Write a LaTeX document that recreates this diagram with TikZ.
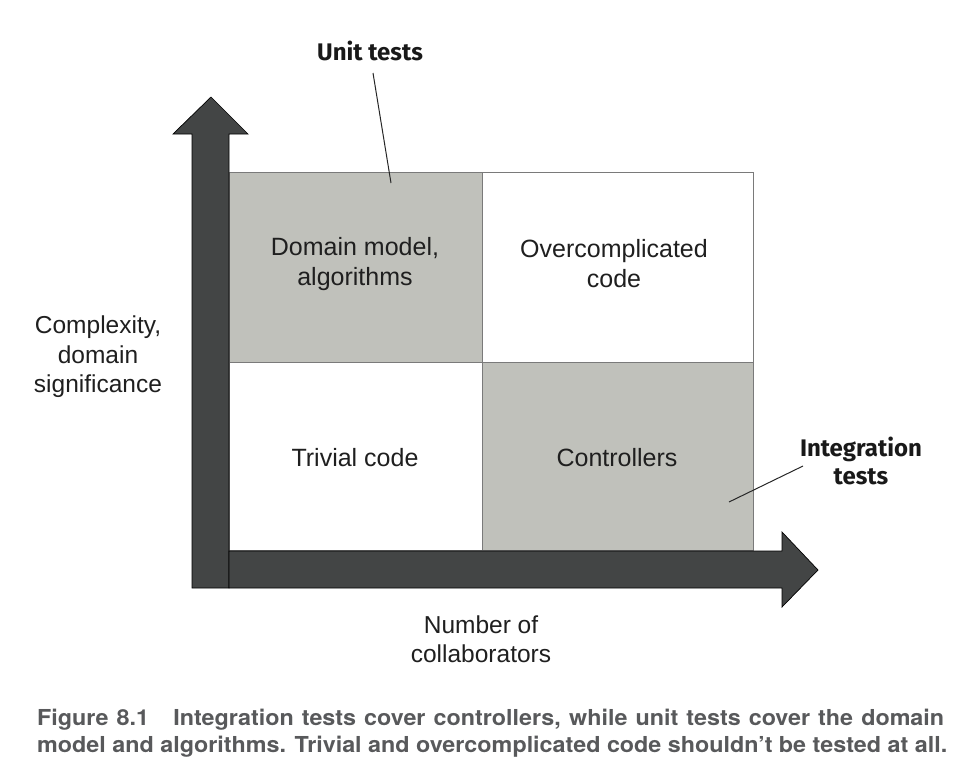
\documentclass[tikz,border=0pt]{standalone}
\usepackage{fontspec}
\setmainfont{Liberation Sans}
\newfontfamily\lblfont{Fira Sans}
\newfontfamily\capfont[FakeStretch=1.06]{TeX Gyre Heros}
\definecolor{arrowdark}{HTML}{434545}
\definecolor{cellgray}{HTML}{C0C1BB}
\definecolor{cellline}{HTML}{7A7A7A}
\definecolor{captiongray}{HTML}{58595B}
\tikzset{
  cell/.style={draw=cellline, line width=0.9pt, minimum width=#1, inner sep=0pt, outer sep=0pt, anchor=north west},
  bigarrow/.style={draw=black, line width=0.7pt, fill=arrowdark, line join=miter},
  celltext/.style={align=center, font=\fontsize{25}{30}\selectfont, text=black!88, inner sep=0pt},
  axistext/.style={align=center, font=\fontsize{24.5}{29.5}\selectfont, text=black!88, inner sep=0pt},
  calltext/.style={align=center, font=\lblfont\bfseries\fontsize{24}{28}\selectfont, text=black!90, inner sep=0pt},
  callline/.style={draw=black!85, line width=1pt},
  captext/.style={font=\capfont\bfseries\fontsize{22}{27}\selectfont, text=captiongray, inner sep=0pt, anchor=base west}
}
\begin{document}
\begin{tikzpicture}[x=1pt,y=-1pt]
\useasboundingbox (0,0) rectangle (974,780);
% cells
\node[cell=253pt, minimum height=190pt, fill=cellgray] (dm) at (229,172) {};
\node[cell=271pt, minimum height=190pt, fill=white] (oc) at (482,172) {};
\node[cell=253pt, minimum height=188pt, fill=white] (tc) at (229,362) {};
\node[cell=271pt, minimum height=188pt, fill=cellgray] (ct) at (482,362) {};
% cell texts
\node[celltext] (dmt) at (355,264) {Domain model,\\algorithms};
\node[celltext] (oct) at (614,264) {Overcomplicated\\code};
\node[celltext] (tct) at (355,458) {Trivial code};
\node[celltext] (ctt) at (617,458) {Controllers};
% vertical arrow
\draw[bigarrow] (192,588) -- (192,134) -- (173,134) -- (211,97) -- (248,134) -- (229,134) -- (229,588) -- cycle;
% horizontal arrow
\draw[bigarrow] (229,551) -- (782,551) -- (782,532) -- (818,570) -- (782,607) -- (782,588) -- (229,588) -- cycle;
% axis labels
\node[axistext] (ylab) at (98,357) {Complexity,\\domain\\significance};
\node[axistext] (xlab) at (481,639) {Number of\\collaborators};
% callouts
\node[calltext] (unit) at (370,51) {Unit tests};
\coordinate (unitend) at (391,183);
\draw[callline] (373,73) -- (unitend);
\node[calltext] (integ) at (861,461) {Integration\\tests};
\coordinate (integend) at (729,502);
\draw[callline] (803,466) -- (integend);
% caption
\node[captext] (cap1) at (37,725) {\hbox to 907pt{Figure 8.1\hspace{1.1em}Integration tests cover controllers, while unit tests cover the domain}};
\node[captext] (cap2) at (37,752) {model and algorithms. Trivial and overcomplicated code shouldn’t be tested at all.};
\end{tikzpicture}
\end{document}
